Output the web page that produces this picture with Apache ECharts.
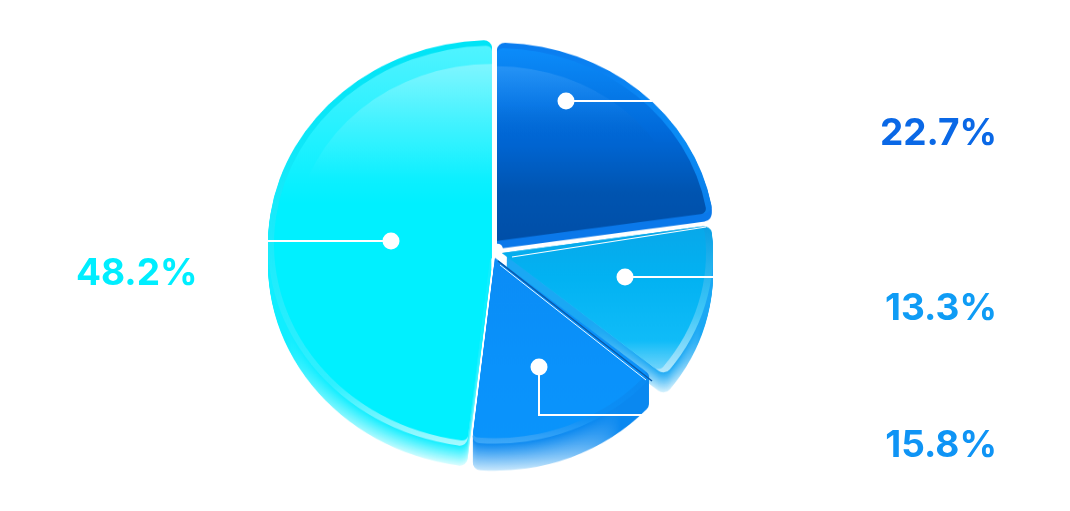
<!DOCTYPE html>
<html><head><meta charset="utf-8">
<script src="https://cdn.jsdelivr.net/npm/echarts@6/dist/echarts.min.js"></script>
<style>
html,body{margin:0;padding:0;background:#fff;overflow:hidden;width:1070px;height:511px}
#pie{position:absolute;left:0;top:0;width:1070px;height:562px;transform-origin:0 0;transform:scaleY(.91)}
#labels{position:absolute;left:0;top:0;width:1070px;height:511px}
</style></head><body>
<div id="pie"></div><div id="labels"></div>
<script>
const categories = ['A','B','C','D'];
const shares = [22.7, 13.3, 15.8, 48.2];
const tickLabels = ['22.7%','13.3%','15.8%','48.2%'];
const labelColors = ['#0a68e6','#0f9cf5','#0f94f5','#00eeff'];

const S = 0.91;
const lin = (...stops) => ({type:'linear',x:0,y:0,x2:0,y2:1,colorStops:stops.map(([offset,color])=>({offset,color}))});
const hex = c => [1,3,5].map(i=>parseInt(c.slice(i,i+2),16));
const mix = (a,b,t) => { const A=hex(a),B=hex(b); return 'rgb('+A.map((v,i)=>Math.round(v+(B[i]-v)*t)).join(',')+')'; };
// Side wall of a slice: one-pixel offsets from deepest to shallowest, paling towards the lower rim.
const wall = (dy, r, br, base, pale, from) => Array.from({length:dy}, (_, k) => {
  const t = (dy-k)/dy;
  return {dy:dy-k, r0:6, r, br, c:lin([0,base],[from,base],[1,mix(base,pale,t)])};
});

// Drawn back to front: [slice index, cx, cy(screen), layers]
const build = [
  [1, 502, 253, [
    ...wall(20, 211, 8, '#1aa8f4', '#d4f1fd', .62),
    {r0:0, r:211, br:8, c:lin([0,'#0aa0e4'],[.6,'#40c8f8'],[1,'#b4e8fc'])},
    {r0:0, r:204, br:6, c:lin([0,'#08a8ea'],[.35,'#02b2f2'],[.8,'#10bcf8'],[1,'#70d4fb'])}
  ]],
  [0, 497, 241, [
    ...wall(8, 218, 8, '#0a78ea', '#0a78ea', .9),
    {r0:0, r:218, br:8, c:lin([0,'#0a7df0'],[.5,'#0a8cf5'],[1,'#0a78e6'])},
    {r0:0, r:212, br:6, c:lin([0,'#0c8cfa'],[.45,'#0068d8'],[.75,'#0054b0'],[1,'#004fa8'])},
    {r0:0, r:192, br:0, c:lin([0,'rgba(120,190,255,.26)'],[.22,'rgba(90,170,255,.08)'],[.45,'rgba(0,0,0,0)'])}
  ]],
  [2, 495, 258, [
    ...wall(27, 204, 8, '#0a88f0', '#c8e8fc', .78),
    {r0:0, r:204, br:7, c:lin([0,'#0a80ea'],[.85,'#0b8ef5'],[1,'#3ea8f8'])},
    {r0:0, r:198, br:5, c:lin([0,'#0b8cf6'],[.6,'#0a92fb'],[1,'#0a94fb'])}
  ]],
  [3, 492, 244, [
    ...wall(20, 224, 8, '#10eeff', '#d8fdff', .7),
    {r0:0, r:224, br:8, c:lin([0,'#00e4f6'],[.85,'#30f0ff'],[1,'#a8faff'])},
    {r0:0, r:218, br:6, c:lin([0,'#50f4ff'],[.08,'#40f2ff'],[.4,'#00f0ff'],[1,'#00f0ff'])},
    {r0:0, r:198, br:0, c:lin([0,'rgba(255,255,255,.3)'],[.16,'rgba(255,255,255,.12)'],[.32,'rgba(255,255,255,0)'])}
  ]]
];

const series = [];
build.forEach(([idx, cx, cy, layers]) => {
  layers.forEach(l => {
    series.push({
      type:'pie', silent:true, animation:false, startAngle:90, clockwise:true,
      avoidLabelOverlap:false, label:{show:false}, labelLine:{show:false},
      center:[cx + (l.dx||0), (cy + (l.dy||0)) / S],
      radius:[l.r0, l.r],
      data: categories.map((name,i)=>({
        name, value:shares[i],
        itemStyle: i===idx ? {color:l.c, borderRadius:[0,l.br]} : {opacity:0, color:'transparent'}
      }))
    });
  });
});
echarts.init(document.getElementById('pie')).setOption({animation:false, series});

const seg = (x1,y1,x2,y2,stroke='#fff',lineWidth=2)=>({type:'line',shape:{x1,y1,x2,y2},style:{stroke,lineWidth},silent:true});
const dot = (cx,cy)=>({type:'circle',shape:{cx,cy,r:8.5},style:{fill:'#fff'},silent:true});
const pct = (i,x,y,align)=>({type:'text',x,y,silent:true,style:{
  text:tickLabels[i],fill:labelColors[i],align,verticalAlign:'middle',
  font:'700 37px Inter'}});
echarts.init(document.getElementById('labels')).setOption({
  animation:false,
  graphic:{elements:[
    seg(512,257,706,227,'#f4fcff',1.2),
    seg(498,261,652,381,'#0a5aa8',1.5),
    seg(500,265,646,380,'#eaf7ff',1),
    seg(566,101,652,101),dot(566,101),
    seg(625,277,716,277),dot(625,277),
    seg(539,367,539,415),seg(538,415,652,415),dot(539,367),
    seg(268,241,391,241),dot(391,241),
    pct(0,997,134,'right'),pct(1,997,309,'right'),pct(2,997,446,'right'),pct(3,76,274,'left')
  ]}
});
</script></body></html>
